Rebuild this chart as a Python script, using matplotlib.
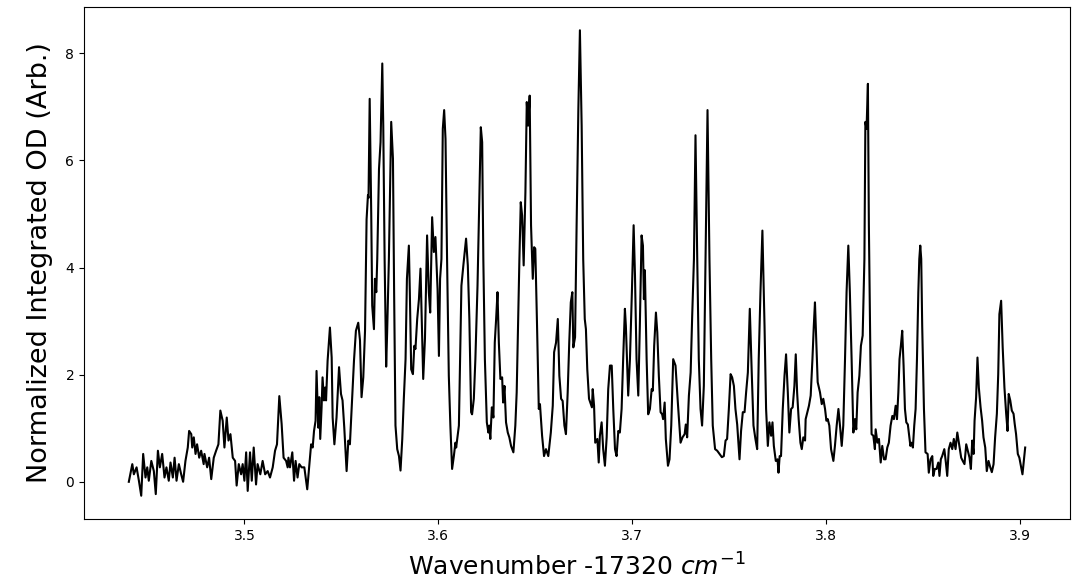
import matplotlib
matplotlib.use("Agg")
import matplotlib.pyplot as plt

wavenumber = [
    3.4404, 3.4422, 3.4430, 3.4444, 3.4456, 3.4468, 3.4478, 3.4490, 3.4499, 3.4507,
    3.4520, 3.4533, 3.4543, 3.4554, 3.4564, 3.4576, 3.4588, 3.4598, 3.4610, 3.4619,
    3.4631, 3.4640, 3.4650, 3.4662, 3.4674, 3.4684, 3.4696, 3.4708, 3.4715, 3.4726,
    3.4731, 3.4739, 3.4748, 3.4756, 3.4767, 3.4777, 3.4790,
    3.4794, 3.4808, 3.4818, 3.4829, 3.4842, 3.4854, 3.4866, 3.4876, 3.4888, 3.4897,
    3.4909, 3.4918, 3.4928, 3.4940, 3.4952, 3.4960, 3.4971, 3.4983, 3.4991, 3.5000,
    3.5009, 3.5017, 3.5029, 3.5038, 3.5048, 3.5060, 3.5068, 3.5082, 3.5094, 3.5107,
    3.5120, 3.5132, 3.5146, 3.5158, 3.5168, 3.5180, 3.5192, 3.5202, 3.5215, 3.5223,
    3.5227, 3.5235, 3.5247, 3.5256, 3.5264, 3.5274, 3.5283, 3.5295, 3.5309, 3.5324,
    3.5335, 3.5344, 3.5352, 3.5359, 3.5367, 3.5372, 3.5381, 3.5386, 3.5391, 3.5398,
    3.5403, 3.5410, 3.5416, 3.5421, 3.5429, 3.5441, 3.5450, 3.5455, 3.5464, 3.5475,
    3.5488, 3.5498, 3.5506, 3.5515, 3.5527, 3.5536, 3.5544, 3.5556, 3.5565, 3.5575,
    3.5587, 3.5596, 3.5604, 3.5613, 3.5622,
    3.5630, 3.5637, 3.5640, 3.5646, 3.5654,
    3.5659, 3.5668, 3.5673, 3.5680, 3.5685, 3.5694, 3.5702, 3.5711, 3.5716, 3.5723,
    3.5731, 3.5736, 3.5745, 3.5757, 3.5766, 3.5772, 3.5779, 3.5788, 3.5797, 3.5805,
    3.5814, 3.5822, 3.5831, 3.5838, 3.5848, 3.5853, 3.5860, 3.5869, 3.5876, 3.5882,
    3.5891, 3.5900, 3.5908, 3.5913, 3.5922, 3.5931, 3.5942, 3.5951, 3.5958, 3.5968,
    3.5977, 3.5985, 3.5996, 3.6003, 3.6009, 3.6016, 3.6023, 3.6030, 3.6037, 3.6045,
    3.6054, 3.6062, 3.6071, 3.6080, 3.6088,
    3.6092, 3.6106, 3.6112, 3.6119, 3.6129, 3.6143, 3.6152, 3.6160, 3.6169, 3.6174,
    3.6183, 3.6191, 3.6202, 3.6212, 3.6219, 3.6226, 3.6232, 3.6240, 3.6250, 3.6258,
    3.6263, 3.6268, 3.6276, 3.6284, 3.6291, 3.6298, 3.6305, 3.6312, 3.6320, 3.6329,
    3.6334, 3.6341, 3.6349, 3.6358, 3.6366, 3.6375, 3.6387, 3.6397, 3.6404, 3.6411,
    3.6418, 3.6425, 3.6432, 3.6440, 3.6449, 3.6456, 3.6463, 3.6471, 3.6478, 3.6487,
    3.6494, 3.6500, 3.6509, 3.6518,
    3.6524, 3.6535, 3.6545, 3.6555, 3.6567, 3.6580, 3.6590, 3.6597, 3.6607, 3.6616,
    3.6624, 3.6633, 3.6641, 3.6650, 3.6658, 3.6667, 3.6675, 3.6683, 3.6691, 3.6696,
    3.6705, 3.6713, 3.6722, 3.6730, 3.6739, 3.6747, 3.6755, 3.6761, 3.6768, 3.6777,
    3.6786, 3.6792, 3.6796, 3.6803, 3.6809, 3.6820, 3.6827, 3.6833, 3.6842, 3.6850,
    3.6859, 3.6868, 3.6876, 3.6885, 3.6894, 3.6902, 3.6911, 3.6919, 3.6928, 3.6936,
    3.6945, 3.6953, 3.6962,
    3.6967, 3.6979, 3.6988, 3.6998, 3.7007, 3.7014, 3.7022, 3.7031, 3.7039, 3.7048,
    3.7055, 3.7060, 3.7065, 3.7074, 3.7082, 3.7091, 3.7100, 3.7106, 3.7113, 3.7122,
    3.7129, 3.7137, 3.7146, 3.7154, 3.7159, 3.7167, 3.7173, 3.7184, 3.7192, 3.7201,
    3.7211, 3.7223, 3.7235, 3.7249, 3.7259, 3.7270, 3.7276, 3.7283, 3.7292, 3.7301,
    3.7309, 3.7318, 3.7326, 3.7335, 3.7343, 3.7352, 3.7360, 3.7369, 3.7378, 3.7388,
    3.7398, 3.7407, 3.7415, 3.7427, 3.7438, 3.7450, 3.7462, 3.7472, 3.7481, 3.7489,
    3.7498, 3.7507, 3.7515, 3.7524, 3.7532, 3.7541, 3.7553, 3.7561, 3.7570, 3.7579,
    3.7587, 3.7596, 3.7606, 3.7616, 3.7625, 3.7635, 3.7644, 3.7652, 3.7661, 3.7671,
    3.7682, 3.7690, 3.7699, 3.7707, 3.7716, 3.7723, 3.7730, 3.7740, 3.7749, 3.7754,
    3.7760, 3.7767, 3.7776, 3.7785, 3.7793, 3.7802, 3.7810, 3.7819, 3.7827, 3.7836,
    3.7843,
    3.7850, 3.7858, 3.7867, 3.7874, 3.7882, 3.7891, 3.7894, 3.7903, 3.7911, 3.7920,
    3.7929, 3.7936, 3.7942, 3.7949, 3.7956, 3.7968, 3.7977, 3.7985, 3.7994, 3.8001,
    3.8008, 3.8016, 3.8025, 3.8037, 3.8045, 3.8054, 3.8063, 3.8071, 3.8080, 3.8088,
    3.8097, 3.8105, 3.8114, 3.8122, 3.8131, 3.8140, 3.8148, 3.8155, 3.8162, 3.8171,
    3.8179, 3.8188, 3.8197, 3.8202, 3.8208, 3.8215, 3.8220, 3.8228, 3.8234, 3.8243,
    3.8251,
    3.8255, 3.8264, 3.8272, 3.8281, 3.8289, 3.8298, 3.8306, 3.8315, 3.8323, 3.8332,
    3.8341, 3.8349, 3.8358, 3.8365, 3.8372, 3.8378, 3.8385, 3.8392, 3.8399, 3.8406,
    3.8413, 3.8421, 3.8426, 3.8434, 3.8440, 3.8447, 3.8454, 3.8461, 3.8468, 3.8475,
    3.8480, 3.8485, 3.8490, 3.8495, 3.8504, 3.8512, 3.8523, 3.8529, 3.8538, 3.8547,
    3.8552, 3.8560, 3.8569, 3.8578, 3.8584, 3.8591, 3.8598, 3.8609, 3.8617, 3.8624,
    3.8632, 3.8641, 3.8650, 3.8658, 3.8667, 3.8676, 3.8684,
    3.8696, 3.8704, 3.8713, 3.8722, 3.8730, 3.8739, 3.8746, 3.8753, 3.8760, 3.8765,
    3.8773, 3.8780, 3.8787, 3.8796, 3.8804, 3.8811, 3.8820, 3.8828, 3.8837, 3.8846,
    3.8854, 3.8863, 3.8871, 3.8880, 3.8887, 3.8893, 3.8902, 3.8910, 3.8919, 3.8928,
    3.8935, 3.8941, 3.8949, 3.8957, 3.8966, 3.8972, 3.8979, 3.8988, 3.8996, 3.9005,
    3.9012, 3.9019, 3.9026,
]

od = [
    0.00, 0.33, 0.14, 0.27, 0.02, -0.26, 0.52, 0.08, 0.27, 0.02,
    0.39, 0.20, -0.23, 0.58, 0.27, 0.52, 0.08, 0.27, 0.02, 0.36,
    0.08, 0.45, 0.02, 0.33, 0.14, 0.00, 0.39, 0.64, 0.95, 0.89,
    0.64, 0.83, 0.52, 0.70, 0.45, 0.58, 0.33,
    0.52, 0.27, 0.45, 0.05, 0.45, 0.58, 0.70, 1.33, 1.14, 0.64,
    1.20, 0.77, 0.89, 0.45, 0.39, -0.07, 0.33, 0.14, 0.33, 0.02,
    0.55, -0.17, 0.55, 0.02, 0.64, -0.05, 0.33, 0.14, 0.39, 0.14,
    0.20, 0.08, 0.27, 0.58, 0.70, 1.60, 1.08, 0.45, 0.39, 0.27,
    0.45, 0.27, 0.55, 0.02, 0.39, 0.08, 0.33, 0.27, 0.27, -0.14,
    0.33, 0.70, 0.64, 0.95, 1.14, 2.07, 1.01, 1.58, 0.80, 1.39,
    1.95, 1.52, 1.76, 1.52, 2.26, 2.88, 2.32, 1.20, 0.70, 1.20,
    2.14, 1.64, 1.52, 1.01, 0.20, 0.77, 0.70, 1.58, 2.26, 2.82,
    2.97, 2.64, 1.58, 1.95, 2.82,
    4.90, 5.35, 5.30, 7.15, 5.00,
    3.29, 2.85, 3.79, 3.54, 4.16, 5.84, 6.34, 7.81, 6.65, 4.16,
    2.15, 2.79, 4.16, 6.72, 6.03, 3.54, 1.05, 0.61, 0.48, 0.21,
    0.80, 1.55, 2.29, 3.79, 4.41, 3.54, 2.10, 2.01, 2.54, 2.48,
    3.04, 3.41, 3.98, 3.23, 1.92, 2.67, 4.60, 3.54, 3.16, 4.94,
    4.29, 4.57, 3.60, 2.35, 3.79, 4.16, 6.59, 6.94, 6.40, 4.16,
    1.98, 1.05, 0.24, 0.48, 0.73,
    0.64, 1.05, 2.29, 3.66, 4.04, 4.54, 4.04, 3.04, 1.30, 1.26,
    1.55, 2.29, 3.66, 5.41, 6.62, 6.34, 4.16, 2.29, 1.11, 0.92,
    1.05, 0.80, 1.39, 1.20, 2.60, 3.04, 3.54, 2.60, 1.92, 1.95,
    1.48, 1.79, 1.11, 0.92, 0.83, 0.67, 0.55, 1.05, 1.67, 2.91,
    4.16, 5.22, 4.97, 4.04, 5.41, 7.09, 6.65, 7.21, 4.79, 3.79,
    4.38, 4.35, 2.91, 1.36,
    1.45, 0.86, 0.48, 0.61, 0.48, 0.92, 1.42, 2.42, 2.60, 3.04,
    1.98, 1.55, 1.51, 1.05, 0.89, 1.67, 2.60, 3.35, 3.54, 2.51,
    2.70, 4.79, 6.96, 8.43, 6.65, 4.16, 3.04, 2.85, 2.10, 1.55,
    1.45, 1.39, 1.73, 1.42, 0.73, 0.80, 0.36, 0.86, 1.11, 0.61,
    0.30, 0.83, 1.73, 2.17, 2.17, 1.36, 0.61, 0.48, 0.95, 0.92,
    1.36, 2.29, 3.23,
    2.91, 1.61, 2.29, 3.54, 4.79, 3.85, 2.29, 1.61, 2.91, 4.60,
    4.41, 3.41, 3.95, 2.29, 1.26, 1.36, 1.73, 1.70, 2.54, 3.16,
    2.79, 1.98, 1.30, 1.26, 1.17, 1.48, 0.80, 0.30, 0.42, 1.05,
    2.29, 2.17, 1.48, 0.73, 0.83, 0.89, 1.07, 0.83, 1.61, 2.04,
    3.10, 4.16, 6.47, 4.16, 2.29, 1.36, 1.05, 1.79, 4.16, 6.94,
    4.16, 2.29, 1.05, 0.61, 0.58, 0.52, 0.46, 0.48, 0.77, 0.80,
    1.36, 2.01, 1.95, 1.79, 1.36, 1.07, 0.42, 0.95, 1.30, 1.30,
    1.67, 2.04, 3.23, 2.04, 1.05, 0.80, 0.61, 2.29, 3.54, 4.69,
    2.91, 1.36, 0.67, 1.11, 0.86, 1.11, 0.67, 0.39, 0.42, 0.17,
    0.48, 0.48, 1.36, 1.98, 2.38, 1.67, 0.92, 1.36, 1.39, 1.79,
    2.38,
    1.67, 1.17, 0.73, 0.61, 0.83, 0.77, 1.17, 1.30, 1.42, 1.61,
    2.29, 2.91, 3.35, 2.60, 1.86, 1.67, 1.45, 1.55, 1.36, 1.14,
    1.17, 1.05, 0.61, 0.39, 0.67, 1.05, 1.36, 1.05, 0.67, 1.05,
    2.29, 3.54, 4.41, 3.54, 2.29, 0.92, 1.17, 0.98, 1.67, 1.98,
    2.54, 2.73, 4.16, 6.72, 6.59, 7.43, 4.79, 2.29, 0.89, 0.86,
    0.61,
    0.98, 0.73, 0.80, 0.36, 0.67, 0.42, 0.42, 0.64, 0.73, 1.05,
    1.23, 1.17, 1.42, 1.17, 1.67, 2.29, 2.54, 2.82, 2.17, 1.36,
    1.11, 1.07, 0.92, 0.67, 0.73, 0.64, 1.05, 1.36, 2.29, 3.54,
    4.16, 4.41, 4.16, 2.91, 1.36, 0.55, 0.52, 0.17, 0.42, 0.48,
    0.11, 0.24, 0.24, 0.36, 0.11, 0.42, 0.48, 0.61, 0.36, 0.11,
    0.61, 0.73, 0.61, 0.80, 0.61, 0.92, 0.73,
    0.45, 0.39, 0.33, 0.70, 0.58, 0.45, 0.24, 0.77, 0.52, 1.14,
    1.58, 2.32, 1.76, 1.39, 1.14, 0.83, 0.64, 0.20, 0.39, 0.27,
    0.18, 0.33, 0.83, 1.27, 2.01, 3.13, 3.38, 2.51, 1.76, 1.27,
    0.95, 1.64, 1.52, 1.33, 1.27, 1.08, 0.89, 0.52, 0.45, 0.27,
    0.14, 0.39, 0.64,
]

x_ticks = [3.5, 3.6, 3.7, 3.8, 3.9]
y_ticks = [0, 2, 4, 6, 8]

fig = plt.figure(figsize=(10.77, 5.85), dpi=100)
ax = fig.add_axes([84 / 1077, 1 - 519 / 585, (1070 - 84) / 1077, (519 - 7) / 585])
ax.plot(wavenumber, od, color="black", linewidth=1.5)
ax.set_xticks(x_ticks)
ax.set_yticks(y_ticks)
ax.tick_params(labelsize=10)
ax.set_xlabel("Wavenumber -17320 $cm^{-1}$", fontsize=18, labelpad=8)
ax.set_ylabel("Normalized Integrated OD (Arb.)", fontsize=19.5, labelpad=9)
fig.savefig("out.png", dpi=100)
